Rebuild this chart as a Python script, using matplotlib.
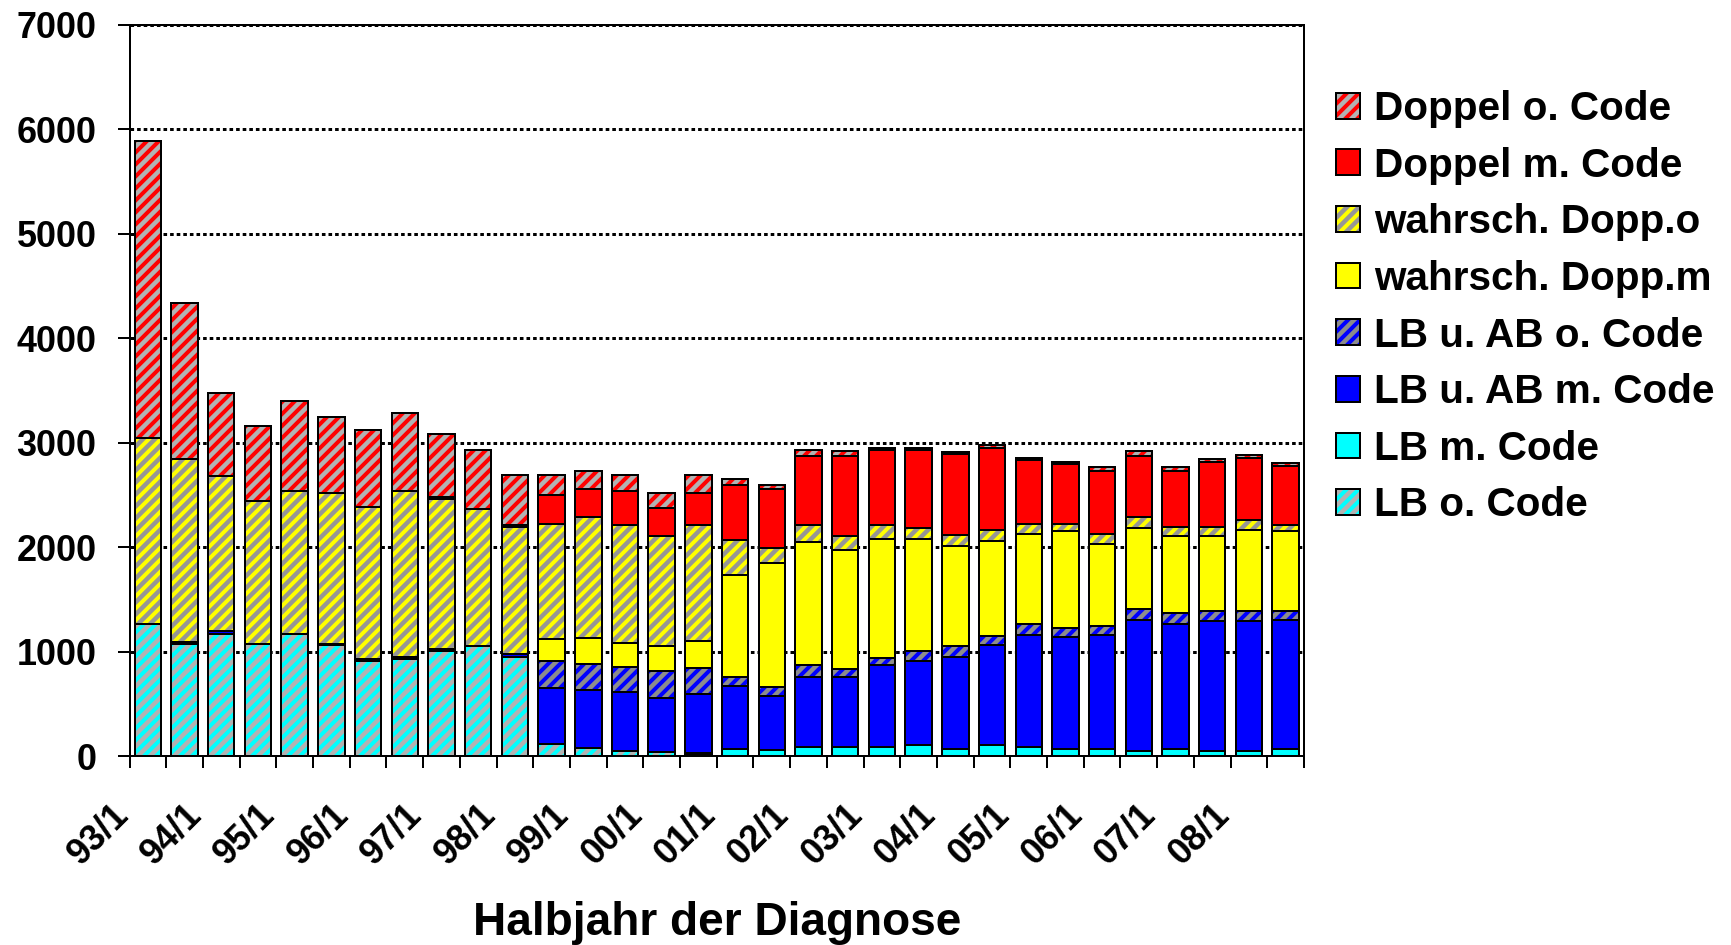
import numpy as np
import matplotlib
matplotlib.use('Agg')
import matplotlib.pyplot as plt
from matplotlib.patches import Patch

plt.rcParams['font.family'] = ['Liberation Sans', 'DejaVu Sans']
plt.rcParams['font.weight'] = 'bold'
plt.rcParams['hatch.linewidth'] = 4

# half-years 93/1 .. 08/2
years = ['93', '94', '95', '96', '97', '98', '99', '00',
         '01', '02', '03', '04', '05', '06', '07', '08']
halves = [y + '/' + h for y in years for h in ('1', '2')]

lb_o = [1267, 1070, 1173, 1070, 1169, 1060, 905, 930, 1005, 1058, 946, 117,
        80, 45, 38, 20, 0, 0, 0, 0, 0, 0, 0, 0, 0, 0, 0, 0, 0, 0, 0, 0]
lb_m = [0, 0, 0, 0, 0, 0, 0, 0, 0, 0, 0, 0, 0, 0, 0, 10,
        64, 61, 83, 83, 83, 103, 64, 103, 87, 64, 64, 45, 64, 45, 45, 64]
ab_m = [0, 20, 20, 0, 0, 15, 20, 15, 15, 0, 30, 531, 549, 565, 514, 560,
        607, 513, 677, 677, 790, 802, 882, 956, 1068, 1072, 1091, 1261, 1203, 1245, 1245, 1239]
ab_o = [0, 0, 0, 0, 0, 0, 0, 0, 0, 0, 0, 257, 256, 240, 263, 257,
        83, 90, 113, 74, 70, 102, 110, 93, 112, 90, 93, 106, 103, 102, 102, 89]
w_m = [0, 0, 0, 0, 0, 0, 0, 0, 0, 0, 0, 212, 244, 228, 241, 250,
       982, 1181, 1180, 1139, 1133, 1069, 959, 904, 863, 924, 786, 770, 741, 719, 770, 758]
w_o = [1778, 1750, 1490, 1374, 1370, 1444, 1462, 1594, 1442, 1312, 1219, 1100, 1162, 1136, 1052, 1117,
       333, 151, 161, 135, 138, 106, 105, 106, 87, 70, 90, 109, 83, 83, 96, 64]
d_m = [0, 0, 0, 0, 0, 0, 0, 0, 15, 0, 15, 286, 266, 324, 263, 301,
       526, 561, 661, 767, 712, 744, 773, 786, 613, 578, 603, 577, 533, 620, 594, 564]
d_o = [2845, 1497, 794, 712, 860, 732, 732, 749, 609, 564, 477, 189, 170, 150, 151, 173,
       55, 38, 60, 41, 26, 26, 20, 26, 25, 22, 39, 48, 39, 29, 26, 26]

# bottom -> top: (label, values, face, hatch colour or None)
series = [
    ('LB o. Code', lb_o, '#b2b2b2', '#00ffff'),
    ('LB m. Code', lb_m, '#00ffff', None),
    ('LB u. AB m. Code', ab_m, '#0000ff', None),
    ('LB u. AB o. Code', ab_o, '#8c8c8c', '#0000ff'),
    ('wahrsch. Dopp.m', w_m, '#ffff00', None),
    ('wahrsch. Dopp.o', w_o, '#969696', '#ffff00'),
    ('Doppel m. Code', d_m, '#ff0000', None),
    ('Doppel o. Code', d_o, '#b2b2b2', '#ff0000'),
]

W, H = 1731, 945
fig = plt.figure(figsize=(W / 72, H / 72), dpi=72)
ax = fig.add_axes([129.5 / W, 1 - 756 / H, (1304 - 129.5) / W, (756 - 25) / H])

x = np.arange(len(halves))
bottom = np.zeros(len(halves))
handles = []
for name, vals, face, hc in series:
    vals = np.array(vals, dtype=float)
    if hc:
        ax.bar(x, vals, 0.72, bottom=bottom, color=face, edgecolor=hc, hatch='//', linewidth=0, zorder=2)
        ax.bar(x, vals, 0.72, bottom=bottom, fill=False, edgecolor='black', linewidth=2, zorder=3)
        h = (Patch(facecolor=face, edgecolor=hc, hatch='//', linewidth=0),
             Patch(facecolor='none', edgecolor='black', linewidth=2))
    else:
        ax.bar(x, vals, 0.72, bottom=bottom, color=face, edgecolor='black', linewidth=2, zorder=3)
        h = Patch(facecolor=face, edgecolor='black', linewidth=2)
    handles.append((name, h))
    bottom += vals

ax.set_xlim(-0.5, len(halves) - 0.5)
ax.set_ylim(0, 7000)
ax.set_yticks(range(0, 7001, 1000))
ax.yaxis.grid(True, color='black', linestyle=(0, (1.2, 1.0)), linewidth=3)
ax.set_axisbelow(True)

ticks = np.arange(len(halves) + 1) - 0.5
labels = [halves[i] if i < len(halves) and i % 2 == 0 else '' for i in range(len(ticks))]
ax.set_xticks(ticks)
ax.set_xticklabels(labels)
ax.tick_params(axis='x', length=12, width=2, pad=48, labelsize=36)
ax.tick_params(axis='y', length=12, width=2, pad=21, labelsize=36)
plt.setp(ax.get_xticklabels(), rotation=45, ha='right', va='baseline', rotation_mode='anchor')
for s in ax.spines.values():
    s.set_linewidth(2)

fig.text(717 / W, 1 - 935 / H, 'Halbjahr der Diagnose', ha='center', va='baseline', fontsize=46)

handles = handles[::-1]
fig.legend([h for _, h in handles], [n for n, _ in handles], loc='upper left',
           bbox_to_anchor=(1336 / W, 1 - 90 / H), frameon=False,
           prop={'family': 'Liberation Sans', 'weight': 'bold', 'size': 40.5},
           handlelength=0.6, handleheight=0.6, handletextpad=0.33,
           labelspacing=0.46, borderpad=0, borderaxespad=0)

fig.savefig('out.png', dpi=72)
